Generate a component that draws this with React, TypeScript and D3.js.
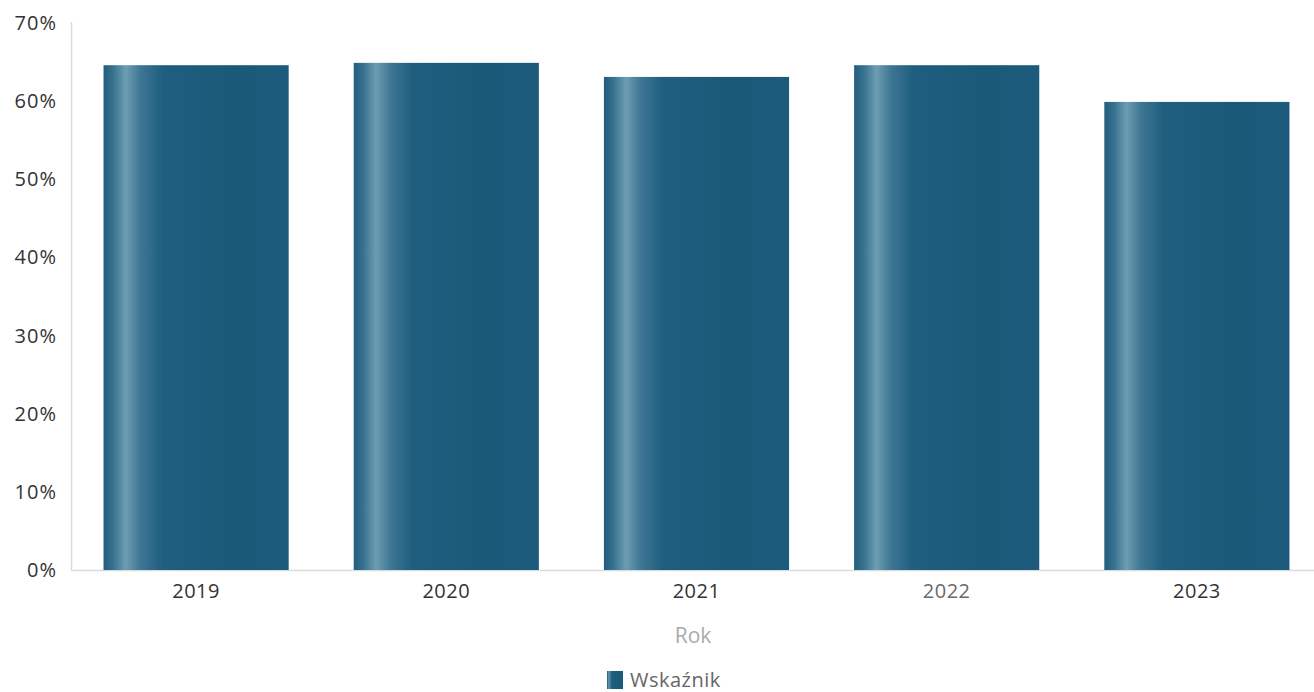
import React from "react";
import * as d3 from "d3";

const categories = ["2019", "2020", "2021", "2022", "2023"];
const values = [64.6, 64.9, 63.1, 64.6, 59.9];
const yTicks = [0, 10, 20, 30, 40, 50, 60, 70];
const seriesName = "Wskaźnik";
const xTitle = "Rok";

const W = 1314;
const H = 692;
const left = 71;
const right = 1322;
const top = 23;
const bottom = 570;

export default function App() {
  const x = d3.scaleBand<string>().domain(categories).range([left, right]).paddingInner(0.26).paddingOuter(0.13);
  const y = d3.scaleLinear().domain([0, 70]).range([bottom, top]);
  const font = "'Open Sans', 'Noto Sans', sans-serif";
  return (
    <svg width={W} height={H} style={{ position: "absolute", left: 0, top: 0, background: "#fff" }} fontFamily={font}>
      <defs>
        <linearGradient id="barGrad" x1="0" x2="1" y1="0" y2="0">
          <stop offset="0" stopColor="#215d7c" />
          <stop offset="0.05" stopColor="#36718f" />
          <stop offset="0.12" stopColor="#6d9db2" />
          <stop offset="0.2" stopColor="#3e7693" />
          <stop offset="0.32" stopColor="#1f5e7e" />
          <stop offset="0.7" stopColor="#1b5979" />
          <stop offset="1" stopColor="#1c5b7b" />
        </linearGradient>
      </defs>
      <line x1={left} x2={W} y1={bottom + 0.5} y2={bottom + 0.5} stroke="#dcdcdc" strokeWidth={1.5} />
      <line x1={left + 0.5} x2={left + 0.5} y1={top - 1} y2={bottom} stroke="#dcdcdc" strokeWidth={1.5} />
      {yTicks.map((t) => (
        <text key={t} x={57} y={y(t)} dy="0.35em" textAnchor="end" fontSize={20} letterSpacing={1} fill="#333">
          {t}%
        </text>
      ))}
      {categories.map((c, i) => (
        <rect key={c} x={x(c)!} y={y(values[i])} width={x.bandwidth()} height={bottom - y(values[i])} fill="url(#barGrad)" />
      ))}
      {categories.map((c) => (
        <text key={c} x={x(c)! + x.bandwidth() / 2} y={591} dy="0.35em" textAnchor="middle" fontSize={20} letterSpacing={0.5} fill={c === "2022" ? "#6a6a6a" : "#333"}>
          {c}
        </text>
      ))}
      <text x={693} y={636} dy="0.35em" textAnchor="middle" fontSize={21} fill="#aaa">
        {xTitle}
      </text>
      <rect x={607} y={671} width={16} height={18} fill="url(#barGrad)" />
      <text x={630} y={680} dy="0.35em" fontSize={20} letterSpacing={0.5} fill="#666">
        {seriesName}
      </text>
    </svg>
  );
}
